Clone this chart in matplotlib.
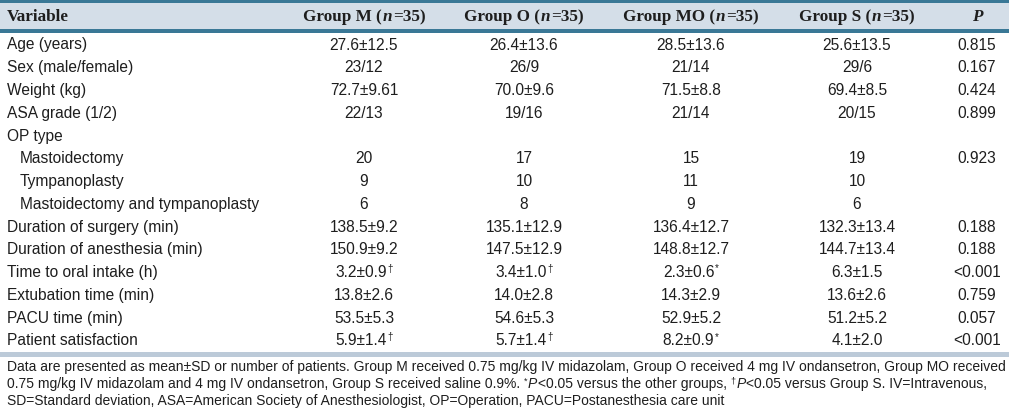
import matplotlib.pyplot as plt
from matplotlib.patches import Rectangle

variables = ["Age (years)", "Sex (male/female)", "Weight (kg)", "ASA grade (1/2)", "OP type",
             "Mastoidectomy", "Tympanoplasty", "Mastoidectomy and tympanoplasty",
             "Duration of surgery (min)", "Duration of anesthesia (min)",
             "Time to oral intake (h)", "Extubation time (min)", "PACU time (min)",
             "Patient satisfaction"]
indented = [False] * 5 + [True] * 3 + [False] * 6

group_m = ["27.6±12.5", "23/12", "72.7±9.61", "22/13", "", "20", "9", "6",
           "138.5±9.2", "150.9±9.2", "3.2±0.9", "13.8±2.6", "53.5±5.3", "5.9±1.4"]
group_o = ["26.4±13.6", "26/9", "70.0±9.6", "19/16", "", "17", "10", "8",
           "135.1±12.9", "147.5±12.9", "3.4±1.0", "14.0±2.8", "54.6±5.3", "5.7±1.4"]
group_mo = ["28.5±13.6", "21/14", "71.5±8.8", "21/14", "", "15", "11", "9",
            "136.4±12.7", "148.8±12.7", "2.3±0.6", "14.3±2.9", "52.9±5.2", "8.2±0.9"]
group_s = ["25.6±13.5", "29/6", "69.4±8.5", "20/15", "", "19", "10", "6",
           "132.3±13.4", "144.7±13.4", "6.3±1.5", "13.6±2.6", "51.2±5.2", "4.1±2.0"]
p_values = ["0.815", "0.167", "0.424", "0.899", "", "0.923", "", "",
            "0.188", "0.188", "<0.001", "0.759", "0.057", "<0.001"]

# superscript marks per cell (dagger: vs Group S, asterisk: vs other groups)
marks_m = [""] * 10 + ["†", "", "", "†"]
marks_o = [""] * 10 + ["†", "", "", "†"]
marks_mo = [""] * 10 + ["*", "", "", "*"]
marks_s = [""] * 14

group_names = ["M", "O", "MO", "S"]
group_n = [35, 35, 35, 35]

TEAL = "#3a7896"
HEAD_BG = "#d4dee8"
BAND = "#bccad8"
INK = "#1e1e1e"

SANS = "Liberation Sans"
SERIF = "Liberation Serif"

fig = plt.figure(figsize=(10.09, 4.11), dpi=100)
ax = fig.add_axes([0, 0, 1, 1])
ax.set_xlim(0, 1009)
ax.set_ylim(411, 0)
ax.axis("off")
renderer = fig.canvas.get_renderer()


def width_of(s, **kw):
    t = ax.text(0, 0, s, **kw)
    w = t.get_window_extent(renderer).width
    t.remove()
    return w


def draw_runs(x, y, runs, center=False):
    # runs: (text, kwargs, gap_before, raise_px)
    widths = [width_of(s, **kw) for s, kw, _, _ in runs]
    total = sum(widths) + sum(g for _, _, g, _ in runs)
    cx = x - total / 2 if center else x
    for (s, kw, gap, rise), w in zip(runs, widths):
        cx += gap
        ax.text(cx, y - rise, s, ha="left", va="center", **kw)
        cx += w


body = dict(family=SANS, fontsize=11.2, color=INK)
sup = dict(family=SANS, fontsize=7, color=INK)
head = dict(family=SERIF, fontsize=12.3, fontweight="bold", color=INK)
head_it = dict(family=SERIF, fontsize=12.3, fontweight="bold", style="italic", color=INK)

# header band and rules
ax.add_patch(Rectangle((0, 0), 1009, 3, color=TEAL, lw=0))
ax.add_patch(Rectangle((0, 3), 1009, 26.5, color=HEAD_BG, lw=0))
ax.add_patch(Rectangle((0, 29.5), 1009, 3.5, color=TEAL, lw=0))
ax.add_patch(Rectangle((0, 352), 1009, 4.5, color=BAND, lw=0))

col_x = [364, 524, 691, 857]
p_x = 977
head_y = 17

ax.text(7, head_y, "Variable", ha="left", va="center", **head)
for name, n, cx in zip(group_names, group_n, col_x):
    draw_runs(cx, head_y, [(f"Group {name} (", head, 0, 0),
                           ("n", head_it, 1, 0),
                           (f"={n})", head, 1, 0)], center=True)
ax.text(p_x, head_y, "P", ha="center", va="center", **head_it)

row0, pitch = 45, 22.75
columns = [(group_m, marks_m), (group_o, marks_o), (group_mo, marks_mo), (group_s, marks_s)]
for i, var in enumerate(variables):
    y = row0 + i * pitch
    ax.text(20 if indented[i] else 7, y, var, ha="left", va="center", **body)
    for (vals, marks), cx in zip(columns, col_x):
        if not vals[i]:
            continue
        if marks[i]:
            draw_runs(cx, y, [(vals[i], body, 0, 0), (marks[i], sup, 1, 4)], center=True)
        else:
            ax.text(cx, y, vals[i], ha="center", va="center", **body)
    if p_values[i]:
        ax.text(p_x, y, p_values[i], ha="center", va="center", **body)

# footnote
foot = dict(family=SANS, fontsize=10, color=INK)
foot_it = dict(family=SANS, fontsize=10, style="italic", color=INK)
foot_sup = dict(family=SANS, fontsize=6.5, color=INK)
sp = width_of("a a", **foot) - width_of("aa", **foot)

ax.text(7, 367, "Data are presented as mean±SD or number of patients. Group M received 0.75 mg/kg "
        "IV midazolam, Group O received 4 mg IV ondansetron, Group MO received",
        ha="left", va="center", **foot)
draw_runs(7, 384, [
    ("0.75 mg/kg IV midazolam and 4 mg IV ondansetron, Group S received saline 0.9%.", foot, 0, 0),
    ("*", foot_sup, sp, 3),
    ("P", foot_it, 0.5, 0),
    ("<0.05 versus the other groups,", foot, 0.5, 0),
    ("†", foot_sup, sp, 3),
    ("P", foot_it, 0.5, 0),
    ("<0.05 versus Group S. IV=Intravenous,", foot, 0.5, 0),
])
ax.text(7, 401, "SD=Standard deviation, ASA=American Society of Anesthesiologist, "
        "OP=Operation, PACU=Postanesthesia care unit", ha="left", va="center", **foot)

fig.savefig("out.png", dpi=100, facecolor="white")
